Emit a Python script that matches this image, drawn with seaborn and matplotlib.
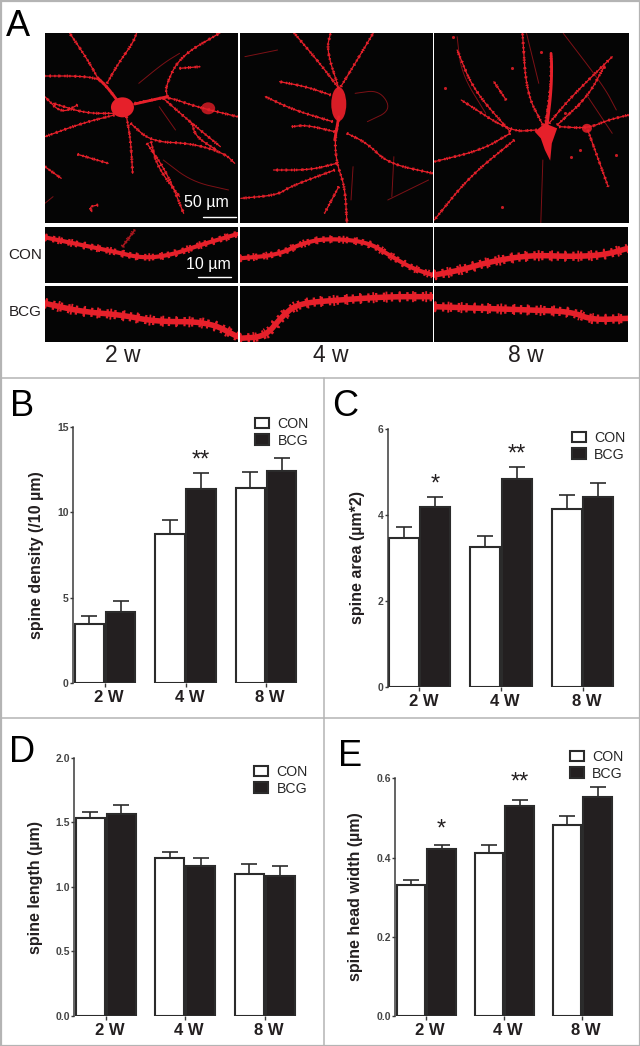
import numpy as np
import pandas as pd
import matplotlib
matplotlib.use('Agg')
import matplotlib.pyplot as plt
from matplotlib.patches import Rectangle, Ellipse, Polygon
import matplotlib.transforms as mtrans
import seaborn as sns

W, H = 640, 1046
RED = '#e6202a'
DIM = '#7d1116'
INK = '#231f20'

weeks = ['2 W', '4 W', '8 W']
groups = ['CON', 'BCG']

"""Bar values and error bar tops read off the picture"""
density_con = [3.49, 8.75, 11.44]
density_bcg = [4.17, 11.34, 12.39]
density_con_top = [3.95, 9.53, 12.33]
density_bcg_top = [4.83, 12.27, 13.15]

area_con = [3.47, 3.25, 4.15]
area_bcg = [4.19, 4.84, 4.42]
area_con_top = [3.73, 3.52, 4.46]
area_bcg_top = [4.42, 5.12, 4.74]

length_con = [1.53, 1.22, 1.10]
length_bcg = [1.56, 1.16, 1.08]
length_con_top = [1.58, 1.27, 1.175]
length_bcg_top = [1.63, 1.225, 1.163]

width_con = [0.33, 0.411, 0.482]
width_bcg = [0.421, 0.53, 0.553]
width_con_top = [0.344, 0.431, 0.505]
width_bcg_top = [0.433, 0.546, 0.579]

"""Micrograph panel A, traced by eye (crop coordinates, x/2.45 y/3 gives pixels)"""
frames_big = [(110, 98, 582, 668), (587, 98, 1060, 668), (1064, 98, 1540, 668)]
frames_con = [(110, 682, 582, 850), (587, 682, 1060, 850), (1064, 682, 1538, 850)]
frames_bcg = [(110, 857, 582, 1026), (587, 857, 1060, 1026), (1064, 857, 1538, 1026)]

branches_2w = [
    [(300, 322), (262, 260), (240, 235), (190, 228), (110, 228)],
    [(240, 235), (215, 180), (170, 98)],
    [(262, 250), (290, 190), (325, 130), (335, 98)],
    [(330, 310), (380, 298), (410, 290), (480, 320), (582, 350)],
    [(410, 290), (405, 260), (440, 170), (540, 98)],
    [(400, 295), (470, 370), (540, 440)],
    [(280, 345), (200, 370), (110, 410)],
    [(310, 350), (320, 420), (325, 520)],
    [(320, 370), (370, 425), (470, 430), (550, 460), (575, 490)],
    [(370, 425), (385, 500), (440, 590)],
    [(360, 430), (410, 520), (450, 640)],
    [(280, 340), (210, 340), (130, 310)],
    [(190, 315), (150, 340), (110, 290)],
    [(440, 205), (490, 200)],
    [(190, 463), (265, 490)],
    [(110, 500), (150, 535)],
    [(240, 615), (220, 620), (225, 635)],
    [(470, 370), (480, 410), (530, 450)],
]
faint_2w = [[(400, 480), (470, 545), (560, 570)], [(340, 250), (400, 190), (440, 160)],
            [(390, 320), (430, 390)], [(110, 610), (130, 590)]]
thick_2w = [[(300, 322), (262, 260), (240, 235)], [(330, 312), (380, 298), (410, 290)]]

branches_4w = [
    [(830, 360), (820, 420), (825, 490), (845, 560), (850, 668)],
    [(830, 265), (790, 200), (720, 98)],
    [(830, 265), (800, 150), (810, 98)],
    [(835, 260), (880, 170), (915, 98)],
    [(810, 285), (750, 260), (685, 245)],
    [(815, 365), (720, 330), (650, 290)],
    [(820, 395), (750, 375), (715, 380)],
    [(825, 490), (760, 510), (670, 510)],
    [(820, 510), (710, 560), (680, 585), (590, 595)],
    [(830, 560), (795, 640)],
    [(850, 400), (900, 430), (950, 490), (1060, 520)],
]
faint_4w = [
    [(600, 170), (680, 150)],
    [(865, 500), (860, 600)],
    [(965, 470), (960, 590)],
    [(870, 280), (930, 270), (960, 330), (900, 365)],
    [(1050, 540), (1000, 570), (950, 600)],
]
thick_4w = [[(830, 350), (820, 420)]]

branches_8w = [
    [(1335, 380), (1350, 260), (1350, 160)],
    [(1330, 375), (1290, 280), (1280, 98)],
    [(1345, 370), (1400, 290), (1500, 170)],
    [(1365, 375), (1440, 290), (1480, 200)],
    [(1315, 390), (1250, 395), (1130, 300)],
    [(1250, 395), (1160, 270), (1120, 150)],
    [(1250, 400), (1180, 450), (1064, 485)],
    [(1260, 420), (1150, 530), (1064, 660)],
    [(1370, 380), (1440, 385), (1490, 360), (1540, 345)],
    [(1440, 390), (1490, 560)],
    [(1240, 300), (1210, 245)],
]
faint_8w = [
    [(1330, 480), (1325, 668)],
    [(1120, 110), (1130, 220), (1190, 340)],
    [(1380, 100), (1480, 260), (1510, 330)],
    [(1440, 290), (1500, 400)],
    [(1290, 100), (1320, 250)],
]
thick_8w = [[(1340, 380), (1350, 280), (1352, 200), (1350, 160)]]
dots_8w = [(1230, 622), (1325, 155), (1255, 205), (1385, 340), (1415, 315),
           (1510, 465), (1420, 450), (1400, 470), (1480, 200), (1110, 110), (1090, 265)]

strips_con = [
    [(110, 712), (200, 735), (280, 755), (350, 775), (420, 765), (490, 735), (582, 702)],
    [(587, 775), (680, 765), (740, 730), (800, 715), (900, 725), (960, 770), (1010, 805), (1060, 825)],
    [(1064, 825), (1130, 810), (1200, 785), (1300, 765), (1400, 770), (1480, 765), (1538, 745)],
]
strips_bcg = [
    [(110, 910), (200, 935), (300, 945), (380, 965), (510, 965), (582, 1010)],
    [(587, 1015), (650, 1010), (690, 950), (730, 910), (830, 900), (950, 890), (1060, 890)],
    [(1064, 920), (1180, 925), (1300, 930), (1400, 935), (1450, 960), (1538, 955)],
]
strip_side_branch = [(300, 740), (330, 690)]

sns.set_theme(style='ticks')
plt.rcParams['font.family'] = ['Liberation Sans', 'DejaVu Sans']
plt.rcParams['lines.scale_dashes'] = False
fig = plt.figure(figsize=(W / 100, H / 100), dpi=100, facecolor='white')


def to_px(pts):
    return np.array(pts, dtype=float) / [2.45, 3.0]


def smooth(pts, rounds=3):
    # corner cutting so the traced dendrites are not straight pieces
    p = np.array(pts, dtype=float)
    for _ in range(rounds):
        q = 0.75 * p[:-1] + 0.25 * p[1:]
        r = 0.25 * p[:-1] + 0.75 * p[1:]
        mid = np.empty((2 * len(q), 2))
        mid[0::2], mid[1::2] = q, r
        p = np.vstack([p[0], mid, p[-1]])
    return p


def dendrite(ax, pts, clip, lw=1.3, color=RED, bump=0.0, rhythm=((1.0, 2.6), (0.8, 5.3))):
    p = smooth(to_px(pts))
    ln, = ax.plot(p[:, 0], p[:, 1], color=color, lw=lw, solid_capstyle='round')
    ln.set_clip_path(clip)
    if bump:
        # small spines along the shaft, two overlapping dash rhythms
        for extra, dash in zip([bump, bump * 1.5], rhythm):
            sp, = ax.plot(p[:, 0], p[:, 1], color=color, lw=lw + extra, dashes=dash, dash_capstyle='butt')
            sp.set_clip_path(clip)


"""Panel A and the frame lines on one pixel axes"""
top = fig.add_axes([0, 0, 1, 1], zorder=5)
top.set_xlim(0, W)
top.set_ylim(H, 0)
top.axis('off')


def panel(frame):
    x0, y0 = to_px([frame[:2]])[0]
    x1, y1 = to_px([frame[2:]])[0]
    rect = Rectangle((x0, y0), x1 - x0, y1 - y0, fc='#050505', ec='none')
    top.add_patch(rect)
    return rect


big_rects = [panel(f) for f in frames_big]
for rect, paths, faint, thick in zip(big_rects, [branches_2w, branches_4w, branches_8w],
                                     [faint_2w, faint_4w, faint_8w], [thick_2w, thick_4w, thick_8w]):
    for pth in faint:
        dendrite(top, pth, rect, lw=0.7, color=DIM)
    for pth in paths:
        dendrite(top, pth, rect, lw=0.9, bump=0.9)
    for pth in thick:
        dendrite(top, pth, rect, lw=2.0)

top.add_patch(Ellipse((300 / 2.45, 322 / 3), 23, 20, fc=RED, ec='none'))
top.add_patch(Ellipse((510 / 2.45, 325 / 3), 14, 12, fc='#b5181f', ec='none'))
top.add_patch(Ellipse((830 / 2.45, 312 / 3), 15, 34, fc='#d81d26', ec='none'))
top.add_patch(Polygon(to_px([(1310, 395), (1335, 370), (1365, 385), (1352, 430), (1348, 482),
                             (1335, 450), (1325, 415)]), fc=RED, ec='none'))
top.add_patch(Ellipse((1438 / 2.45, 385 / 3), 10, 9, fc='#c81b23', ec='none'))
d = to_px(dots_8w)
top.scatter(d[:, 0], d[:, 1], s=5, color='#c81b23', linewidths=0)

for row, strips in zip([frames_con, frames_bcg], [strips_con, strips_bcg]):
    for i, (frame, pth) in enumerate(zip(row, strips)):
        rect = panel(frame)
        thick = row is frames_bcg or i == 2
        dendrite(top, pth, rect, lw=4.0 if thick else 3.0, bump=2.6 if thick else 1.8,
                 rhythm=((1.7, 3.9), (1.3, 8.2)))
        if row is frames_con and i == 0:
            dendrite(top, strip_side_branch, rect, lw=1.2, color='#a8161d', bump=1.2)

top.plot([497 / 2.45, 577 / 2.45], [652 / 3, 652 / 3], color='white', lw=1.0)
top.plot([485 / 2.45, 565 / 2.45], [830 / 3, 830 / 3], color='white', lw=1.0)
top.text(206, 203, '50 µm', color='white', fontsize=11.5, ha='center', va='center')
top.text(208, 265, '10 µm', color='white', fontsize=11.5, ha='center', va='center')
top.text(25, 255, 'CON', color=INK, fontsize=11, ha='center', va='center')
top.text(25, 312, 'BCG', color=INK, fontsize=11, ha='center', va='center')
for x, y, s in [(123, 356, '2 w'), (331, 355, '4 w'), (526, 356, '8 w')]:
    top.text(x, y, s, color=INK, fontsize=16.5, ha='center', va='center')

for x, y, s in [(18, 26, 'A'), (22, 407, 'B'), (345, 407, 'C'), (22, 752, 'D'), (350, 757, 'E')]:
    top.text(x, y, s, color='black', fontsize=26, ha='center', va='center')

line = '#b4b4b4'
top.plot([0.5, 639.5, 639.5, 0.5, 0.5], [0.5, 0.5, 1045.5, 1045.5, 0.5], color=line, lw=1.6)
top.plot([0, 640], [378, 378], color=line, lw=1.1)
top.plot([0, 640], [718, 718], color=line, lw=1.1)
top.plot([324, 324], [378, 1046], color=line, lw=1.1)


def bar_panel(con, bcg, con_top, bcg_top, ylabel, ymax, yticks, fmt, axis_x, y0, ytop,
              spacing, first, label_xy, legend_xy, stars):
    df = pd.DataFrame({
        'week': weeks * 2,
        'group': ['CON'] * 3 + ['BCG'] * 3,
        'value': con + bcg,
    })
    left_units = (first - axis_x) / spacing
    width_px = spacing * (2 + left_units + 0.45)
    ax = fig.add_axes([axis_x / W, 1 - y0 / H, width_px / W, (y0 - ytop) / H])
    sns.barplot(data=df, x='week', y='value', hue='group', order=weeks, hue_order=groups,
                palette={'CON': 'white', 'BCG': INK}, edgecolor='#2b2b2b', linewidth=1.5,
                width=0.78, gap=0.06, saturation=1, ax=ax)
    ax.set_xlim(-left_units, 2 + 0.45)
    ax.set_ylim(0, ymax)

    # upper error bars only, placed from the bars seaborn drew
    for bars, means, tops in zip(ax.containers, [con, bcg], [con_top, bcg_top]):
        xs = [b.get_x() + b.get_width() / 2 for b in bars]
        errs = np.array(tops) - np.array(means)
        ax.errorbar(xs, means, yerr=[np.zeros(3), errs], fmt='none', ecolor='#2b2b2b',
                    elinewidth=1.2, capsize=6, capthick=1.2, zorder=1)
    for i, s, y in stars:
        b = ax.containers[1][i]
        ax.text(b.get_x() + b.get_width() / 2, y, s, ha='center', va='center',
                fontsize=17, color=INK)

    sns.despine(ax=ax, bottom=True)
    ax.spines['left'].set_linewidth(1.1)
    ax.spines['left'].set_color('#3a3a3a')
    ax.set_yticks(yticks)
    ax.set_yticklabels([fmt % v for v in yticks], fontsize=7.5, fontweight='bold', color='#444444')
    ax.tick_params(axis='y', length=2.5, width=1, pad=0.5, color='#3a3a3a')
    ax.tick_params(axis='x', length=3, width=1, pad=2, color='#3a3a3a')
    ax.set_xticks(range(3))
    ax.set_xticklabels(weeks, fontsize=12, fontweight='bold', color=INK)
    shift = mtrans.ScaledTranslation(4 / 100, 0, fig.dpi_scale_trans)
    for lab in ax.get_xticklabels():
        lab.set_transform(lab.get_transform() + shift)
    ax.set_xlabel('')
    ax.set_ylabel(ylabel, fontsize=11.5, fontweight='bold', color=INK)
    ax.yaxis.set_label_coords(label_xy[0] / W, 1 - label_xy[1] / H, transform=fig.transFigure)
    ax.patch.set_alpha(0)

    sns.move_legend(ax, 'upper left', bbox_to_anchor=(legend_xy[0] / W, 1 - legend_xy[1] / H),
                    bbox_transform=fig.transFigure, title=None, frameon=False, fontsize=10.2,
                    borderpad=0, borderaxespad=0, handlelength=1.0, handleheight=0.78,
                    labelspacing=0.18, handletextpad=0.6)
    return ax


bar_panel(density_con, density_bcg, density_con_top, density_bcg_top, 'spine density (/10 µm)',
          15, [0, 5, 10, 15], '%d', 72.7, 683.3, 426.7, 80.5, 105, (44, 555), (255, 417),
          [(1, '**', 13.05)])
bar_panel(area_con, area_bcg, area_con_top, area_bcg_top, 'spine area (µm*2)',
          6, [0, 2, 4, 6], '%d', 387.7, 687, 429.3, 81.5, 419.5, (365, 558), (571.5, 431),
          [(0, '*', 4.72), (1, '**', 5.42)])
bar_panel(length_con, length_bcg, length_con_top, length_bcg_top, 'spine length (µm)',
          2.0, [0.0, 0.5, 1.0, 1.5, 2.0], '%.1f', 74, 1015.7, 757.7, 79.5, 105.8, (43, 887),
          (254, 765), [])
bar_panel(width_con, width_bcg, width_con_top, width_bcg_top, 'spine head width (µm)',
          0.6, [0.0, 0.2, 0.4, 0.6], '%.1f', 395, 1016.3, 778.3, 78, 426.3, (363, 897),
          (569.5, 750), [(0, '*', 0.47), (1, '**', 0.59)])

plt.savefig('out.png', dpi=100)
